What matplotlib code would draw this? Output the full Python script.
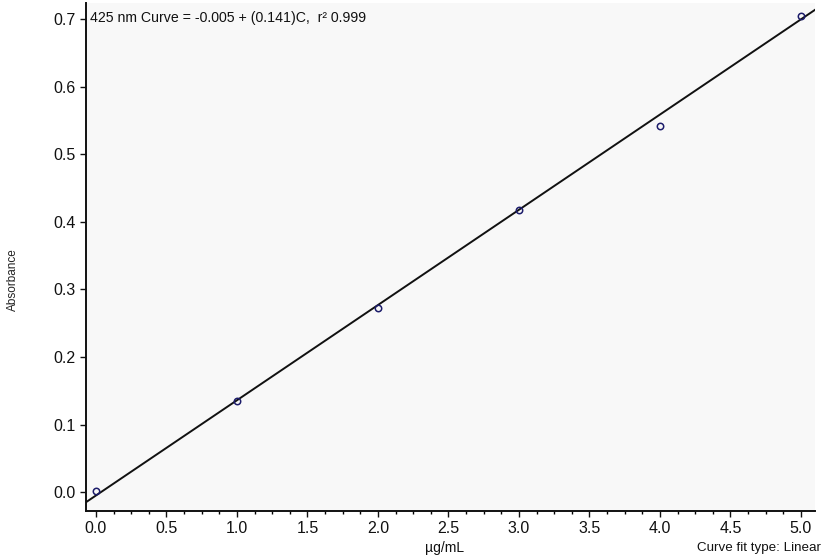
import numpy as np
import matplotlib.pyplot as plt
from matplotlib.ticker import MultipleLocator

conc = [0.0, 1.0, 2.0, 3.0, 4.0, 5.0]
absorb = [0.001, 0.135, 0.273, 0.417, 0.542, 0.705]
intercept = -0.005
slope = 0.141
xticks = [0.0, 0.5, 1.0, 1.5, 2.0, 2.5, 3.0, 3.5, 4.0, 4.5, 5.0]
yticks = [0.0, 0.1, 0.2, 0.3, 0.4, 0.5, 0.6, 0.7]

plt.rcParams['font.family'] = ['Liberation Sans Narrow', 'Liberation Sans', 'DejaVu Sans']

fig = plt.figure(figsize=(8.22, 5.6), dpi=100)
ax = fig.add_axes([0.1046, 0.0875, 0.887, 0.907])
ax.set_facecolor('#f8f8f8')

xl = (-0.071, 5.10)
xs = np.array(xl)
ax.plot(xs, intercept + slope * xs, color='#111111', lw=1.4, zorder=2)
ax.plot(conc, absorb, 'o', ms=4.6, mfc='none', mec='#1c1c6a', mew=1.1, zorder=3)

ax.set_xlim(*xl)
ax.set_ylim(-0.028, 0.724)
ax.set_xticks(xticks)
ax.set_yticks(yticks)
ax.xaxis.set_minor_locator(MultipleLocator(0.125))
ax.set_xticklabels([f'{v:.1f}' for v in xticks])
ax.set_yticklabels([f'{v:.1f}' for v in yticks])
ax.tick_params(axis='both', which='major', direction='out', length=4, width=1, labelsize=11.5, colors='#111111')
ax.tick_params(axis='x', which='minor', direction='out', length=2.5, width=1)

for s in ['top', 'right']:
    ax.spines[s].set_visible(False)
for s in ['left', 'bottom']:
    ax.spines[s].set_linewidth(1.4)
    ax.spines[s].set_color('#111111')

ax.text(0.006, 0.985, '425 nm Curve = -0.005 + (0.141)C,  r\u00b2 0.999',
        transform=ax.transAxes, ha='left', va='top', fontsize=10.2, color='#111111')

fig.text(0.016, 0.5, 'Absorbance', rotation=90, ha='center', va='center',
         fontsize=8.5, color='#222222')
fig.text(0.541, 0.022, '\u00b5g/mL', ha='center', va='center', fontsize=10, color='#111111')
fig.text(0.999, 0.022, 'Curve fit type: Linear', ha='right', va='center', fontsize=9.6, color='#111111')

fig.savefig('out.png', dpi=100, facecolor='white')
